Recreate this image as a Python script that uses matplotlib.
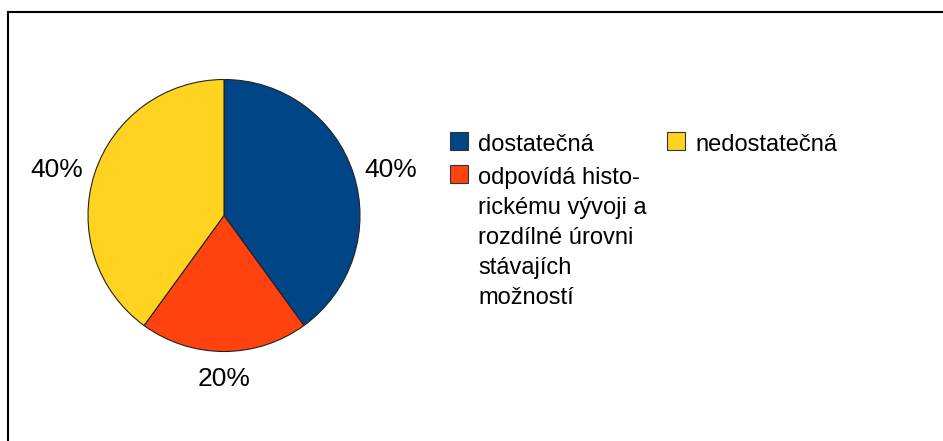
import matplotlib
matplotlib.use("Agg")
import numpy as np
import matplotlib.pyplot as plt
from matplotlib.patches import Rectangle

plt.rcParams['font.family'] = ['Liberation Sans', 'DejaVu Sans']

# data
categories = ['dostatečná',
              'odpovídá histo-\nrickému vývoji a\nrozdílné úrovni\nstávajích\nmožností',
              'nedostatečná']
shares = [40, 20, 40]
colors = ['#004586', '#ff420e', '#ffd320']

W, H = 943, 441
fig = plt.figure(figsize=(W / 100, H / 100), dpi=100)
ax = fig.add_axes([0, 0, 1, 1])

cx, cy, r = 224, H - 215.5, 136
wedges, texts, autotexts = ax.pie(
    shares, colors=colors, startangle=90, counterclock=False,
    center=(cx, cy), radius=r, frame=True,
    autopct='%1.0f%%', pctdistance=1.23,
    wedgeprops={'edgecolor': '#222222', 'linewidth': 0.8},
    textprops={'fontsize': 19, 'color': 'black'})
ax.set_xlim(0, W)
ax.set_ylim(0, H)
ax.set_aspect('auto')
ax.axis('off')

# put the percent labels just outside the rim, office-style
for w, t in zip(wedges, autotexts):
    ang = np.deg2rad((w.theta1 + w.theta2) / 2)
    c, s = np.cos(ang), np.sin(ang)
    off = 12 if abs(c) > 0.5 else 16
    t.set_position((cx + (r + off) * c, cy + (r + off) * s))
    t.set_ha('left' if c > 0.5 else 'right' if c < -0.5 else 'center')
    t.set_va('top' if s < -0.5 else 'bottom' if s > 0.5 else 'center')

# outer frame (only left and top visible in the crop)
ax.add_patch(Rectangle((8, -20), W + 40, H - 12 + 20, fill=False,
                       edgecolor='black', linewidth=1.5))

# legend, drawn by hand so the box sits at the first line
# (column x of box, top of box)
slots = [(450, 132), (450, 165), (667, 132)]
box = 18
line_gap = 30
for (lx, ty), label, c in zip(slots, categories, colors):
    ax.add_patch(Rectangle((lx, H - ty - box), box, box, facecolor=c,
                           edgecolor='#333333', linewidth=0.8))
    base = ty + 19
    for i, line in enumerate(label.split('\n')):
        ax.text(lx + 28, H - (base + i * line_gap), line, fontsize=17,
                ha='left', va='baseline')

fig.savefig('out.png', dpi=100)
